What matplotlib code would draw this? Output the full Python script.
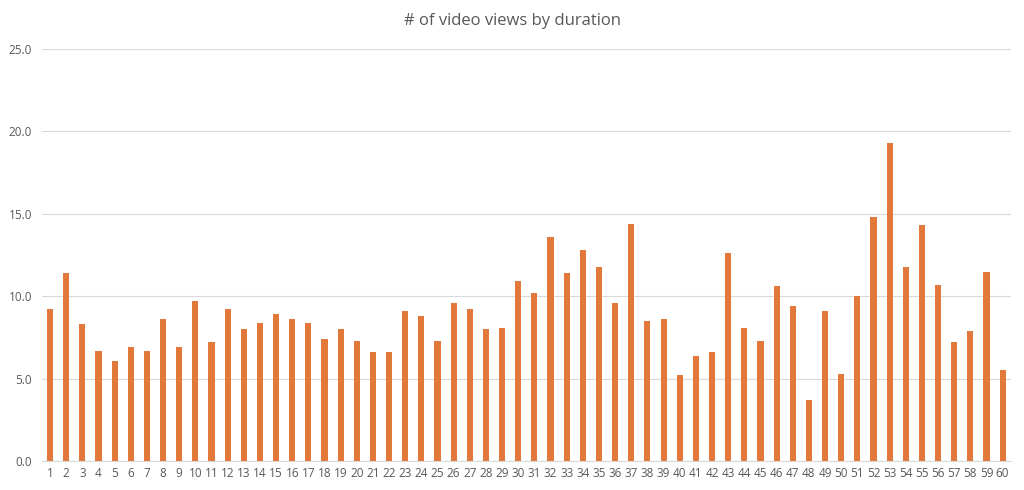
import numpy as np
import matplotlib
matplotlib.use('Agg')
import matplotlib.pyplot as plt

# duration (seconds) and views
durations = list(range(1, 61))
views = [9.2, 11.4, 8.3, 6.7, 6.1, 6.9, 6.7, 8.6, 6.9, 9.7,
         7.2, 9.2, 8.0, 8.4, 8.9, 8.6, 8.4, 7.4, 8.0, 7.3,
         6.6, 6.6, 9.1, 8.8, 7.3, 9.6, 9.2, 8.0, 8.1, 10.9,
         10.2, 13.6, 11.4, 12.8, 11.8, 9.6, 14.4, 8.5, 8.6, 5.2,
         6.4, 6.6, 12.6, 8.1, 7.3, 10.6, 9.4, 3.7, 9.1, 5.3,
         10.0, 14.8, 19.3, 11.8, 14.3, 10.7, 7.2, 7.9, 11.5, 5.5]
y_ticks = [0, 5, 10, 15, 20, 25]

bar_color = '#E2793A'
text_color = '#595959'
grid_color = '#D9D9D9'

plt.rcParams['font.family'] = ['Open Sans', 'DejaVu Sans']

fig = plt.figure(figsize=(10.24, 4.9), dpi=100)
ax = fig.add_axes([0.041, 0.059, 0.946, 0.841])

ax.bar(durations, views, width=0.38, color=bar_color, zorder=3)

ax.set_xlim(0.5, 60.5)
ax.set_ylim(0, 25)
ax.set_yticks(y_ticks)
ax.set_yticklabels([f'{t:.1f}' for t in y_ticks])
ax.set_xticks(durations)
ax.set_xticklabels([str(d) for d in durations])

ax.yaxis.grid(True, color=grid_color, linewidth=0.8, zorder=0)
for side in ['top', 'right', 'left']:
    ax.spines[side].set_visible(False)
ax.spines['bottom'].set_color(grid_color)
ax.spines['bottom'].set_linewidth(0.8)
ax.tick_params(axis='both', length=0, colors=text_color, labelsize=8.5)
ax.tick_params(axis='x', pad=4)
ax.tick_params(axis='y', pad=7)

fig.text(0.5, 0.958, '# of video views by duration', ha='center', va='center',
         fontsize=12, color=text_color)

fig.savefig('out.png', dpi=100, facecolor='white')
